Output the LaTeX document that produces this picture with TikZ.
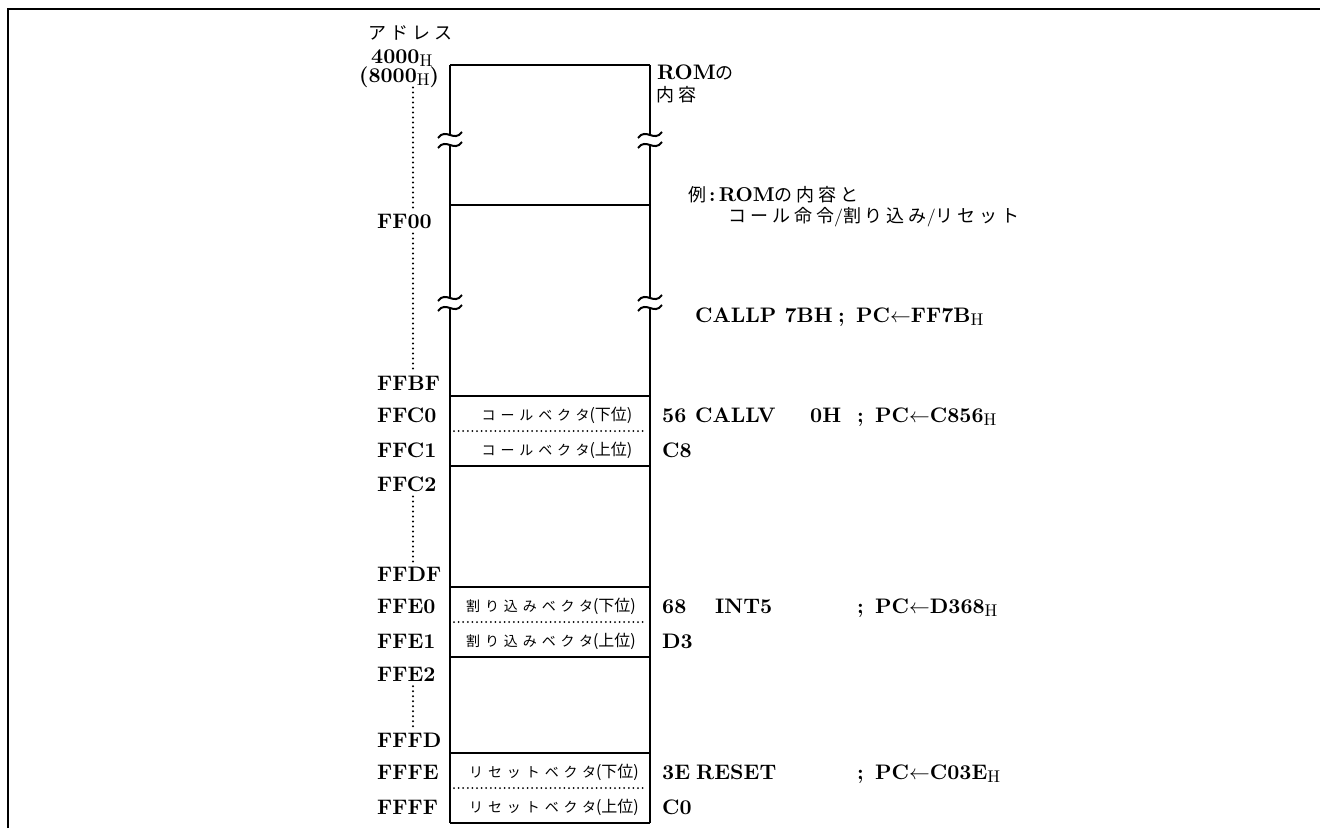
\documentclass[tikz,border=0pt]{standalone}
\usepackage{fontspec}
\setmainfont{lmroman10-regular.otf}[BoldFont=lmroman10-bold.otf, ItalicFont=lmroman10-italic.otf]
\newfontfamily\jpfont{Noto Sans CJK JP}
\newfontfamily\jpwide{Noto Sans CJK JP}[LetterSpace=22]
\newfontfamily\jpcell{Noto Sans CJK JP}[LetterSpace=35]
\usetikzlibrary{positioning}
\newcommand{\hsub}{\raisebox{-0.4ex}{\fontsize{17}{17}\selectfont\mdseries H}}
\newcommand{\cellpos}[1]{{\jpfont\fontsize{16}{18}\selectfont(#1)}}

\begin{document}
\begin{tikzpicture}[x=1pt,y=-1pt,
    memline/.style={line width=2pt},
    halfline/.style={line width=2pt, line cap=round, dash pattern=on 0pt off 4.6pt},
    axisline/.style={line width=2.2pt, line cap=round, dash pattern=on 0pt off 5pt},
    addr/.style={anchor=base west, inner sep=0pt, font=\fontsize{21}{23}\selectfont\bfseries},
    code/.style={addr},
    jp/.style={anchor=base west, inner sep=0pt, font=\jpwide\fontsize{18}{21}\selectfont},
    cell/.style={anchor=base, inner sep=0pt, font=\jpcell\fontsize{14}{16}\selectfont}]
  \useasboundingbox (0,0) rectangle (1320,828);
  % page frame
  \draw[line width=2.5pt] (8,828) -- (8,9) -- (1320,9);

  % ROM area
  \coordinate (romTL) at (450,65);
  \coordinate (romTR) at (650,65);
  \coordinate (romBL) at (450,823);
  \coordinate (romBR) at (650,823);
  \draw[memline] (romTL) -- (romTR);
  \draw[memline] (romBL) -- (romBR);
  \foreach \x in {450,650}{
    \draw[memline] (\x,65) -- (\x,135) (\x,145) -- (\x,298) (\x,308) -- (\x,823);
    \foreach \y in {135,145,298,308}
      \draw[memline] (\x-12,\y+3) .. controls (\x-4,\y-8) and (\x+4,\y+8) .. (\x+12,\y-3);
  }
  \foreach \y in {205,396,466,587,657,753}
    \draw[memline] (450,\y) -- (650,\y);
  \foreach \y in {431,622,788}
    \draw[halfline] (454,\y) -- (647,\y);

  % vector cells
  \node[cell] (callLo) at (557,420) {コールベクタ\cellpos{下位}};
  \node[cell] (callHi) at (557,455) {コールベクタ\cellpos{上位}};
  \node[cell] (intLo)  at (551,611) {割り込みベクタ\cellpos{下位}};
  \node[cell] (intHi)  at (551,646) {割り込みベクタ\cellpos{上位}};
  \node[cell] (rstLo)  at (554,777) {リセットベクタ\cellpos{下位}};
  \node[cell] (rstHi)  at (554,812) {リセットベクタ\cellpos{上位}};

  % addresses
  \node[jp] (addrTitle) at (368,39) {アドレス};
  \node[addr] (a4000) at (371,63) {4000\hsub};
  \node[addr] (a8000) at (359,82) {(8000\hsub)};
  \foreach \y/\t in {228/FF00, 390/FFBF, 422/FFC0, 457/FFC1, 491/FFC2,
                     581/FFDF, 613/FFE0, 648/FFE1, 681/FFE2,
                     747/FFFD, 779/FFFE, 814/FFFF}
    \node[addr] (a\t) at (377,\y) {\t};
  \coordinate (axis) at (413,0);
  \draw[axisline] (a8000.south -| axis) -- ([yshift=4pt]aFF00.north -| axis);
  \draw[axisline] ([yshift=-5pt]aFF00.south -| axis) -- ([yshift=4pt]aFFBF.north -| axis);
  \draw[axisline] ([yshift=-5pt]aFFC2.south -| axis) -- ([yshift=4pt]aFFDF.north -| axis);
  \draw[axisline] ([yshift=-5pt]aFFE2.south -| axis) -- ([yshift=4pt]aFFFD.north -| axis);

  % ROM contents
  \node[anchor=base west, inner sep=0pt] (romHead) at (657,79)
    {\fontsize{21}{23}\selectfont\bfseries ROM{\jpfont\fontsize{18}{21}\selectfont\mdseries の}};
  \node[jp] (romHead2) at (656,101) {内容};
  \node[jp] (example) at (688,201)
    {例\,{\rmfamily\bfseries\fontsize{20}{22}\selectfont :\,ROM}の内容と};
  \node[jp] (example2) at (728,222) {コール命令{\rmfamily\fontsize{18}{21}\selectfont/}割り込み{\rmfamily\fontsize{18}{21}\selectfont/}リセット};

  \node[code] (callp) at (695,322) {CALLP 7BH};
  \node[code] (callpSemi) at (838,322) {;};
  \node[code] (callpPC) at (856,322) {PC$\leftarrow$FF7B\hsub};

  \node[code] (d56) at (662,422) {56};
  \node[code] (callv) at (695,422) {CALLV};
  \node[code] (callvArg) at (810,422) {0H};
  \node[code] (callvSemi) at (857,422) {;};
  \node[code] (callvPC) at (875,422) {PC$\leftarrow$C856\hsub};
  \node[code] (dC8) at (662,457) {C8};

  \node[code] (d68) at (662,613) {68};
  \node[code] (int5) at (715,613) {INT5};
  \node[code] (int5Semi) at (857,613) {;};
  \node[code] (int5PC) at (875,613) {PC$\leftarrow$D368\hsub};
  \node[code] (dD3) at (662,648) {D3};

  \node[code] (d3E) at (662,779) {3E};
  \node[code] (reset) at (696,779) {RESET};
  \node[code] (resetSemi) at (857,779) {;};
  \node[code] (resetPC) at (875,779) {PC$\leftarrow$C03E\hsub};
  \node[code] (dC0) at (662,814) {C0};
\end{tikzpicture}
\end{document}
